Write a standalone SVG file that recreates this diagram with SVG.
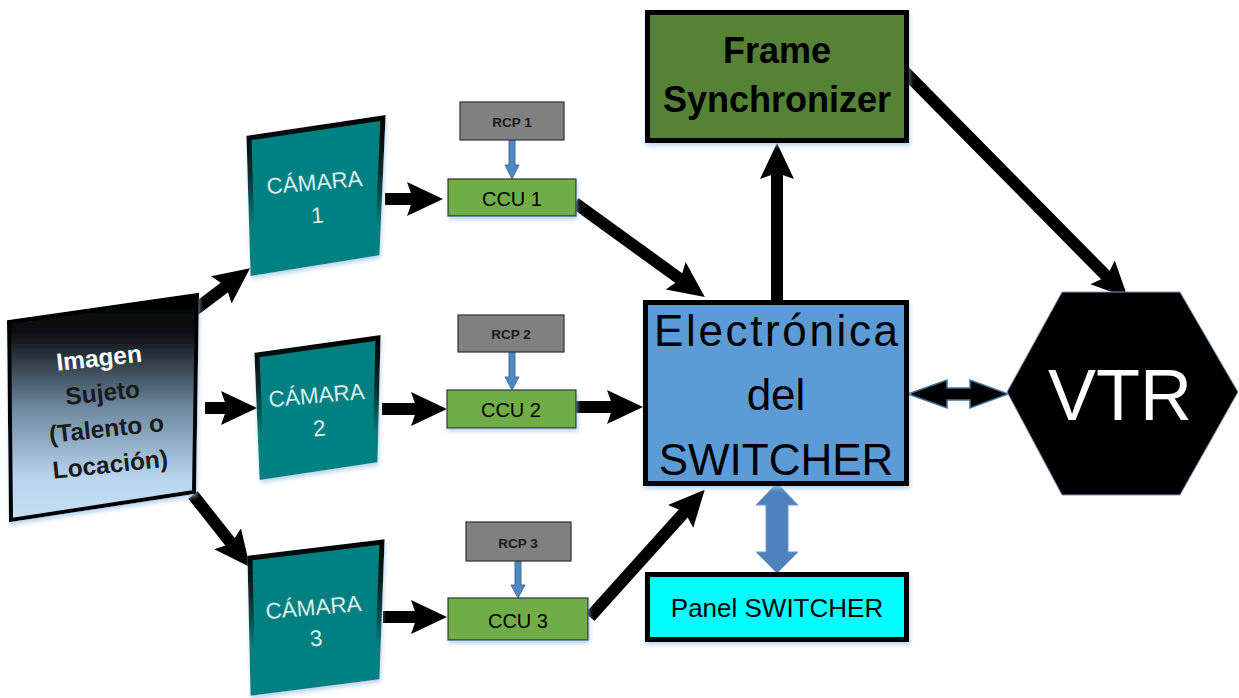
<svg xmlns="http://www.w3.org/2000/svg" width="1239" height="698" viewBox="0 0 1239 698">
<style>
.t{font-family:"Liberation Sans",Arial,sans-serif;text-anchor:middle}
.blk{stroke:#000;stroke-width:5}
.thin{stroke:#2f2f2f;stroke-width:1.2}
.conn{stroke:#000;stroke-width:12;fill:none;marker-end:url(#ah)}
.cam{fill:#008080;stroke:url(#camEdge);stroke-width:5}
.camt{font-size:22.5px;fill:#dcefef}
.ccu{fill:#70ad47}
.rcp{fill:#808080}
.barr{fill:#4f87c2;stroke:#41719c;stroke-width:1}
</style>
<defs>
<linearGradient id="imgGrad" x1="0" y1="0" x2="0" y2="1">
<stop offset="0" stop-color="#000"/>
<stop offset="0.18" stop-color="#0e1216"/>
<stop offset="0.5" stop-color="#6d889f"/>
<stop offset="0.82" stop-color="#b9d6ee"/>
<stop offset="1" stop-color="#c5def3"/>
</linearGradient>
<linearGradient id="camEdge" x1="0" y1="0" x2="0" y2="1">
<stop offset="0" stop-color="#000"/>
<stop offset="0.35" stop-color="#0a2a2a"/>
<stop offset="0.7" stop-color="#008080"/>
<stop offset="1" stop-color="#008080"/>
</linearGradient>
<filter id="sh" x="-10%" y="-10%" width="130%" height="130%">
<feDropShadow dx="1" dy="3" stdDeviation="2" flood-color="#9dc3e6" flood-opacity="0.7"/>
</filter>
<marker id="ah" markerUnits="userSpaceOnUse" markerWidth="36" markerHeight="36" viewBox="0 0 36 36" refX="14" refY="18" orient="auto">
<path d="M0,1 L36,18 L0,35 L6,18 Z" fill="#000"/>
</marker>
</defs>

<g id="connectors">
<line class="conn" x1="192" y1="312" x2="232.5" y2="281.4"/>
<line class="conn" x1="205" y1="408" x2="235" y2="408"/>
<line class="conn" x1="193" y1="495" x2="236.3" y2="549.7"/>
<line class="conn" x1="385" y1="199" x2="421" y2="199"/>
<line class="conn" x1="382" y1="409" x2="425" y2="409"/>
<line class="conn" x1="383" y1="617" x2="425" y2="617"/>
<line class="conn" x1="575" y1="203" x2="687" y2="284"/>
<line class="conn" x1="576" y1="407" x2="621" y2="407"/>
<line class="conn" x1="590" y1="617" x2="690" y2="506"/>
<line class="conn" x1="777" y1="300" x2="777" y2="165"/>
<line class="conn" x1="903" y1="70" x2="1112.5" y2="282.3"/>
<path class="barr" d="M509,140 L515,140 L515,165 L519,165 L512,179 L505,165 L509,165 Z"/>
<path class="barr" d="M509,352 L515,352 L515,377 L519,377 L512,390 L505,377 L509,377 Z"/>
<path class="barr" d="M515,561 L521,561 L521,585 L525,585 L518,598 L511,585 L515,585 Z"/>
<path d="M908,394 L947,380 L947,388 L970,388 L970,380 L1008,394 L970,408 L970,400 L947,400 L947,408 Z" fill="#000" stroke="#41719c" stroke-width="1.5"/>
<path d="M777,483 L798,505 L788,505 L788,552 L798,552 L777,573 L756,552 L766,552 L766,505 L756,505 Z" fill="#4f81bd" stroke="#6e9bd0" stroke-width="1"/>
</g>

<g id="imagen">
<polygon points="9,322 197,295 194,492 11,520" fill="url(#imgGrad)" stroke="#000" stroke-width="4" filter="url(#sh)"/>
<g transform="rotate(-6 105 415)" class="t" font-weight="bold" font-size="24.5">
<text x="105" y="366" fill="#fff">Imagen</text>
<text x="105" y="401" fill="#1a1a1a">Sujeto</text>
<text x="105" y="437" fill="#1a1a1a">(Talento o</text>
<text x="105" y="473" fill="#1a1a1a">Locación)</text>
</g>
</g>

<g id="camara1">
<polygon class="cam" points="249,138 383,118 377,253 253,273" filter="url(#sh)"/>
<g transform="rotate(-5 316 200)" class="t camt">
<text x="316" y="190">CÁMARA</text>
<text x="316" y="223">1</text>
</g>
</g>
<g id="camara2">
<polygon class="cam" points="257,355 378,338 375,460 262,477" filter="url(#sh)"/>
<g transform="rotate(-5 318 412)" class="t camt">
<text x="318" y="403">CÁMARA</text>
<text x="318" y="436">2</text>
</g>
</g>
<g id="camara3">
<polygon class="cam" points="250,558 382,542 377,677 253,693" filter="url(#sh)"/>
<g transform="rotate(-5 315 625)" class="t camt">
<text x="315" y="615">CÁMARA</text>
<text x="315" y="646">3</text>
</g>
</g>

<g id="rcp1">
<rect class="rcp thin" x="460" y="102" width="104" height="38"/>
<text class="t" x="512" y="127" font-size="13.5" font-weight="bold" fill="#1a1a1a">RCP 1</text>
</g>
<g id="ccu1">
<rect class="ccu thin" x="448" y="179" width="128" height="37" filter="url(#sh)"/>
<text class="t" x="512" y="206" font-size="20" fill="#000">CCU 1</text>
</g>
<g id="rcp2">
<rect class="rcp thin" x="458" y="315" width="106" height="37"/>
<text class="t" x="511" y="339" font-size="13.5" font-weight="bold" fill="#1a1a1a">RCP 2</text>
</g>
<g id="ccu2">
<rect class="ccu thin" x="447" y="390" width="129" height="38" filter="url(#sh)"/>
<text class="t" x="511" y="417" font-size="20" fill="#000">CCU 2</text>
</g>
<g id="rcp3">
<rect class="rcp thin" x="466" y="522" width="105" height="39"/>
<text class="t" x="518" y="548" font-size="13.5" font-weight="bold" fill="#1a1a1a">RCP 3</text>
</g>
<g id="ccu3">
<rect class="ccu thin" x="448" y="598" width="140" height="42" filter="url(#sh)"/>
<text class="t" x="518" y="628" font-size="20" fill="#000">CCU 3</text>
</g>

<g id="switcher">
<rect class="blk" x="645.5" y="302.5" width="261" height="181" fill="#5b9bd5" filter="url(#sh)"/>
<g class="t" font-size="44" fill="#000">
<text x="776" y="346" textLength="244" lengthAdjust="spacing">Electrónica</text>
<text x="776" y="410">del</text>
<text x="776" y="475">SWITCHER</text>
</g>
</g>

<g id="frame">
<rect class="blk" x="647.5" y="12.5" width="259" height="128" fill="#548235" filter="url(#sh)"/>
<g class="t" font-size="36" font-weight="bold" fill="#000">
<text x="777" y="63">Frame</text>
<text x="777" y="112">Synchronizer</text>
</g>
</g>

<g id="panel">
<rect class="blk" x="647.5" y="574.5" width="259" height="65" fill="#00ffff" filter="url(#sh)"/>
<text class="t" x="777" y="617" font-size="26" fill="#000">Panel SWITCHER</text>
</g>

<g id="vtr">
<polygon points="1062,292 1180,292 1238,392 1180,495 1062,495 1007,392" fill="#000" stroke="#7a9cbf" stroke-width="1"/>
<text class="t" x="1120" y="420" font-size="72" fill="#fff">VTR</text>
</g>
</svg>
